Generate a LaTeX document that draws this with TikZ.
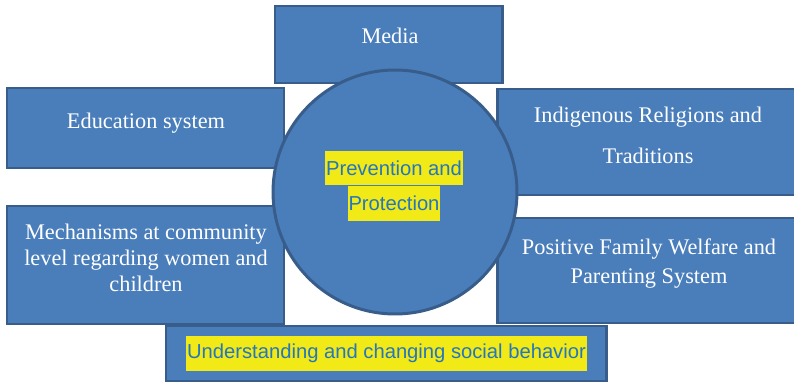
\documentclass[tikz,border=0pt]{standalone}
\usepackage{fontspec}
\setmainfont{Liberation Serif}
\setsansfont{Liberation Sans}
\usetikzlibrary{positioning}
\definecolor{panelblue}{RGB}{74,126,187}
\definecolor{paneledge}{RGB}{56,93,138}
\definecolor{markyellow}{RGB}{242,234,22}
\definecolor{markblue}{RGB}{36,118,190}
\tikzset{
  panel/.style={fill=panelblue, draw=paneledge, line width=1.7pt},
  paneltext/.style={text=white, align=center, inner sep=0pt,
    font=\fontsize{12.7}{#1}\selectfont},
  paneltext/.default=14.8,
  marked/.style={fill=markyellow, text=markblue, inner xsep=0.5pt, inner ysep=0pt,
    minimum height=0.7cm, font=\sffamily\fontsize{11.5}{13}\selectfont}
}

\begin{document}
\begin{tikzpicture}[x=0.02cm, y=-0.02cm]
  \useasboundingbox (0,0) rectangle (794,382);

  % Panels round the circle
  \draw[panel] (275,6) rectangle (502,83);
  \draw[panel] (7,88) rectangle (284,168);
  \draw[panel] (497,89) rectangle (802,195);
  \draw[panel] (7,206) rectangle (284,324);
  \draw[panel] (497,218) rectangle (802,323);
  \draw[panel] (166,326) rectangle (606,381);

  % Panel labels
  \node[paneltext] (media) at (390,36) {Media};
  \node[paneltext] (education) at (146,123) {Education system};
  \node[paneltext=23.3] (religions) at (648,135.5) {Indigenous Religions and\\Traditions};
  \node[paneltext=14.8] (community) at (146,258) {Mechanisms at community\\level regarding women and\\children};
  \node[paneltext=16.5] (family) at (649,264) {Positive Family Welfare and\\Parenting System};
  \node[marked] (behavior) at (386.5,353.5) {Understanding and changing social behavior};

  % Center
  \node[panel, circle, minimum size=4.88cm, inner sep=0pt] (core) at (395,192) {};
  \node[marked] (prevention) at (394,168) {Prevention and};
  \node[marked, below=0pt of prevention] (protection) {Protection};
\end{tikzpicture}
\end{document}
